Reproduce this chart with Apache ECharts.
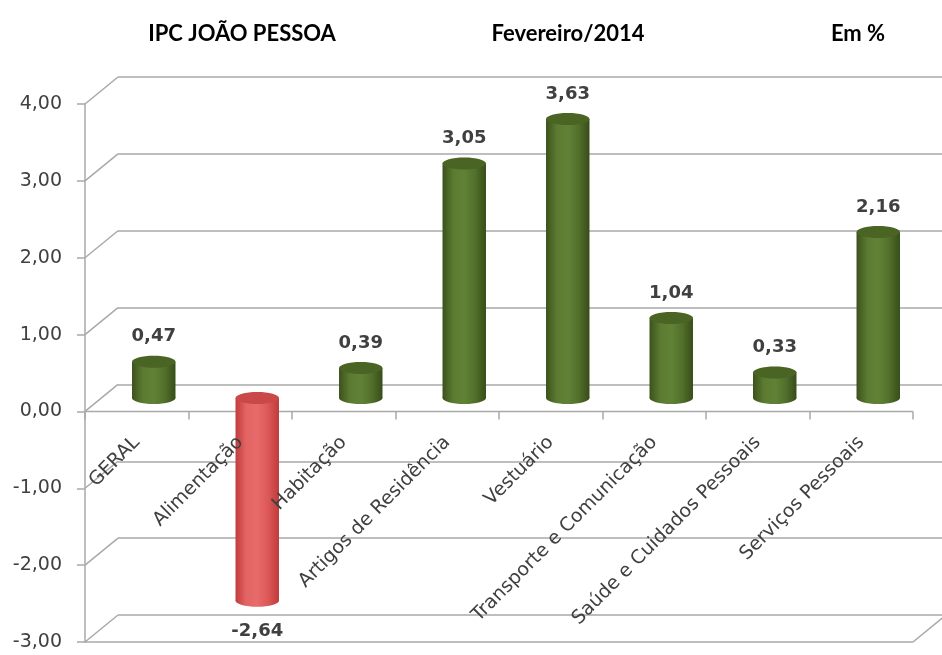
<!DOCTYPE html>
<html>
<head>
<meta charset="utf-8">
<script src="https://cdn.jsdelivr.net/npm/echarts@6/dist/echarts.min.js"></script>
<style>
  html, body { margin: 0; padding: 0; background: #fff; }
  #chart { width: 942px; height: 655px; }
</style>
</head>
<body>
<div id="chart"></div>
<script>
// dados do gráfico
const categories = ['GERAL', 'Alimentação', 'Habitação', 'Artigos de Residência', 'Vestuário',
  'Transporte e Comunicação', 'Saúde e Cuidados Pessoais', 'Serviços Pessoais'];
const values = [0.47, -2.64, 0.39, 3.05, 3.63, 1.04, 0.33, 2.16];
const yTicks = [-3, -2, -1, 0, 1, 2, 3, 4];
const titles = ['IPC JOÃO PESSOA', 'Fevereiro/2014', 'Em %'];

const Y_MIN = -3, Y_MAX = 4;
const DEPTH_X = 33, DEPTH_Y = -27; // profundidade do "3D"
const GRID_LINE = '#a9a9a9';
const TEXT = '#404040';
const FONT = 'DejaVu Sans';

const fmt = v => v.toFixed(2).replace('.', ',');

function gradient(stops) {
  return new echarts.graphic.LinearGradient(0, 0, 1, 0,
    stops.map((c, i) => ({ offset: i / (stops.length - 1), color: c })));
}
const greenBody = ['#3b521c', '#5c7b31', '#618236', '#52702b', '#374d1a'];
const redBody = ['#c23c3c', '#e46464', '#e86a6a', '#dc5858', '#bf3a3a'];

const chart = echarts.init(document.getElementById('chart'));

const PLOT_H = 538;
const gridBase = { width: 828, height: PLOT_H, containLabel: false, outerBoundsMode: 'none' };

chart.setOption({
  animation: false,
  title: [
    { text: titles[0], left: 237, top: 18, textAlign: 'center' },
    { text: titles[1], left: 563, top: 18, textAlign: 'center' },
    { text: titles[2], left: 853, top: 18, textAlign: 'center' }
  ].map(t => Object.assign(t, {
    textStyle: { fontFamily: 'Lato', fontWeight: 'bold', fontSize: 22, color: '#000' }
  })),
  grid: [
    Object.assign({ left: 85, top: 104 }, gridBase),   // frente
    Object.assign({ left: 118, top: 77 }, gridBase),   // parede do fundo
    Object.assign({ left: 102, top: 90.5 }, gridBase), // plano das barras
    // faixa acima do zero, só para o eixo de categorias
    { left: 85, top: 104, width: 828, height: PLOT_H * Y_MAX / (Y_MAX - Y_MIN),
      containLabel: false, outerBoundsMode: 'none' }
  ],
  xAxis: [
    { type: 'category', gridIndex: 0, data: categories, show: false },
    { type: 'category', gridIndex: 1, data: categories, show: false },
    { type: 'category', gridIndex: 2, data: categories, show: false },
    {
      type: 'category', gridIndex: 3, data: categories, position: 'bottom',
      axisLine: { show: false, onZero: false },
      axisTick: { show: true, length: 8, lineStyle: { color: GRID_LINE, width: 1.5 } },
      axisLabel: {
        interval: 0, rotate: 45, margin: 28,
        fontFamily: FONT, fontSize: 19, color: TEXT
      },
      z: 10
    }
  ],
  yAxis: [
    {
      type: 'value', gridIndex: 0, min: Y_MIN, max: Y_MAX, interval: 1,
      axisLine: { show: true, lineStyle: { color: GRID_LINE, width: 1.5 } },
      axisTick: { show: true, length: 8, lineStyle: { color: GRID_LINE, width: 1.5 } },
      splitLine: { show: false },
      axisLabel: { formatter: fmt, margin: 23, fontFamily: FONT, fontSize: 19, color: TEXT }
    },
    {
      type: 'value', gridIndex: 1, min: Y_MIN, max: Y_MAX, interval: 1,
      axisLine: { show: false }, axisTick: { show: false }, axisLabel: { show: false },
      splitLine: { show: true, lineStyle: { color: GRID_LINE, width: 1.5 } }
    },
    {
      type: 'value', gridIndex: 2, min: Y_MIN, max: Y_MAX, interval: 1, show: false,
      splitLine: { show: false }
    },
    { type: 'value', gridIndex: 3, show: false, splitLine: { show: false } }
  ],
  series: [
    {
      // diagonais da parede lateral, piso e linha do zero
      type: 'custom', xAxisIndex: 0, yAxisIndex: 0, silent: true, z: 1,
      data: yTicks.map(v => [0, v]),
      renderItem: function (params, api) {
        const cs = params.coordSys;
        const v = api.value(1);
        const y = api.coord([0, v])[1];
        const xr = cs.x + cs.width;
        const st = { stroke: GRID_LINE, lineWidth: 1.5 };
        const kids = [{
          type: 'line', shape: { x1: cs.x, y1: y, x2: cs.x + DEPTH_X, y2: y + DEPTH_Y }, style: st
        }];
        if (v === Y_MIN || v === 0) {
          kids.push({ type: 'line', shape: { x1: cs.x, y1: y, x2: xr, y2: y }, style: st });
        }
        if (v === Y_MIN) {
          kids.push({ type: 'line', shape: { x1: xr, y1: y, x2: xr + DEPTH_X, y2: y + DEPTH_Y }, style: st });
        }
        return { type: 'group', children: kids };
      }
    },
    {
      // cilindros
      type: 'custom', xAxisIndex: 2, yAxisIndex: 2, z: 5,
      data: values.map((v, i) => [i, v]),
      renderItem: function (params, api) {
        const i = api.value(0), v = api.value(1);
        const x = api.coord([i, 0])[0];
        const y0 = api.coord([i, 0])[1];
        const y1 = api.coord([i, v])[1];
        const bw = api.size([1, 0])[0] * 0.42;
        const rx = bw / 2, ry = 6;
        const top = Math.min(y0, y1), bot = Math.max(y0, y1);
        const neg = v < 0;
        const body = gradient(neg ? redBody : greenBody);
        const cap = neg ? '#c94848' : '#4a6424';
        return {
          type: 'group',
          children: [
            { type: 'ellipse', shape: { cx: x, cy: bot, rx: rx, ry: ry }, style: { fill: body } },
            { type: 'rect', shape: { x: x - rx, y: top, width: bw, height: bot - top }, style: { fill: body } },
            { type: 'ellipse', shape: { cx: x, cy: top, rx: rx, ry: ry }, style: { fill: cap } },
            {
              type: 'text',
              style: {
                text: fmt(v), x: x, y: neg ? bot + 30 : top - 25,
                align: 'center', verticalAlign: 'middle',
                font: 'bold 18px "' + FONT + '"', fill: TEXT
              }
            }
          ]
        };
      }
    }
  ]
});
</script>
</body>
</html>
